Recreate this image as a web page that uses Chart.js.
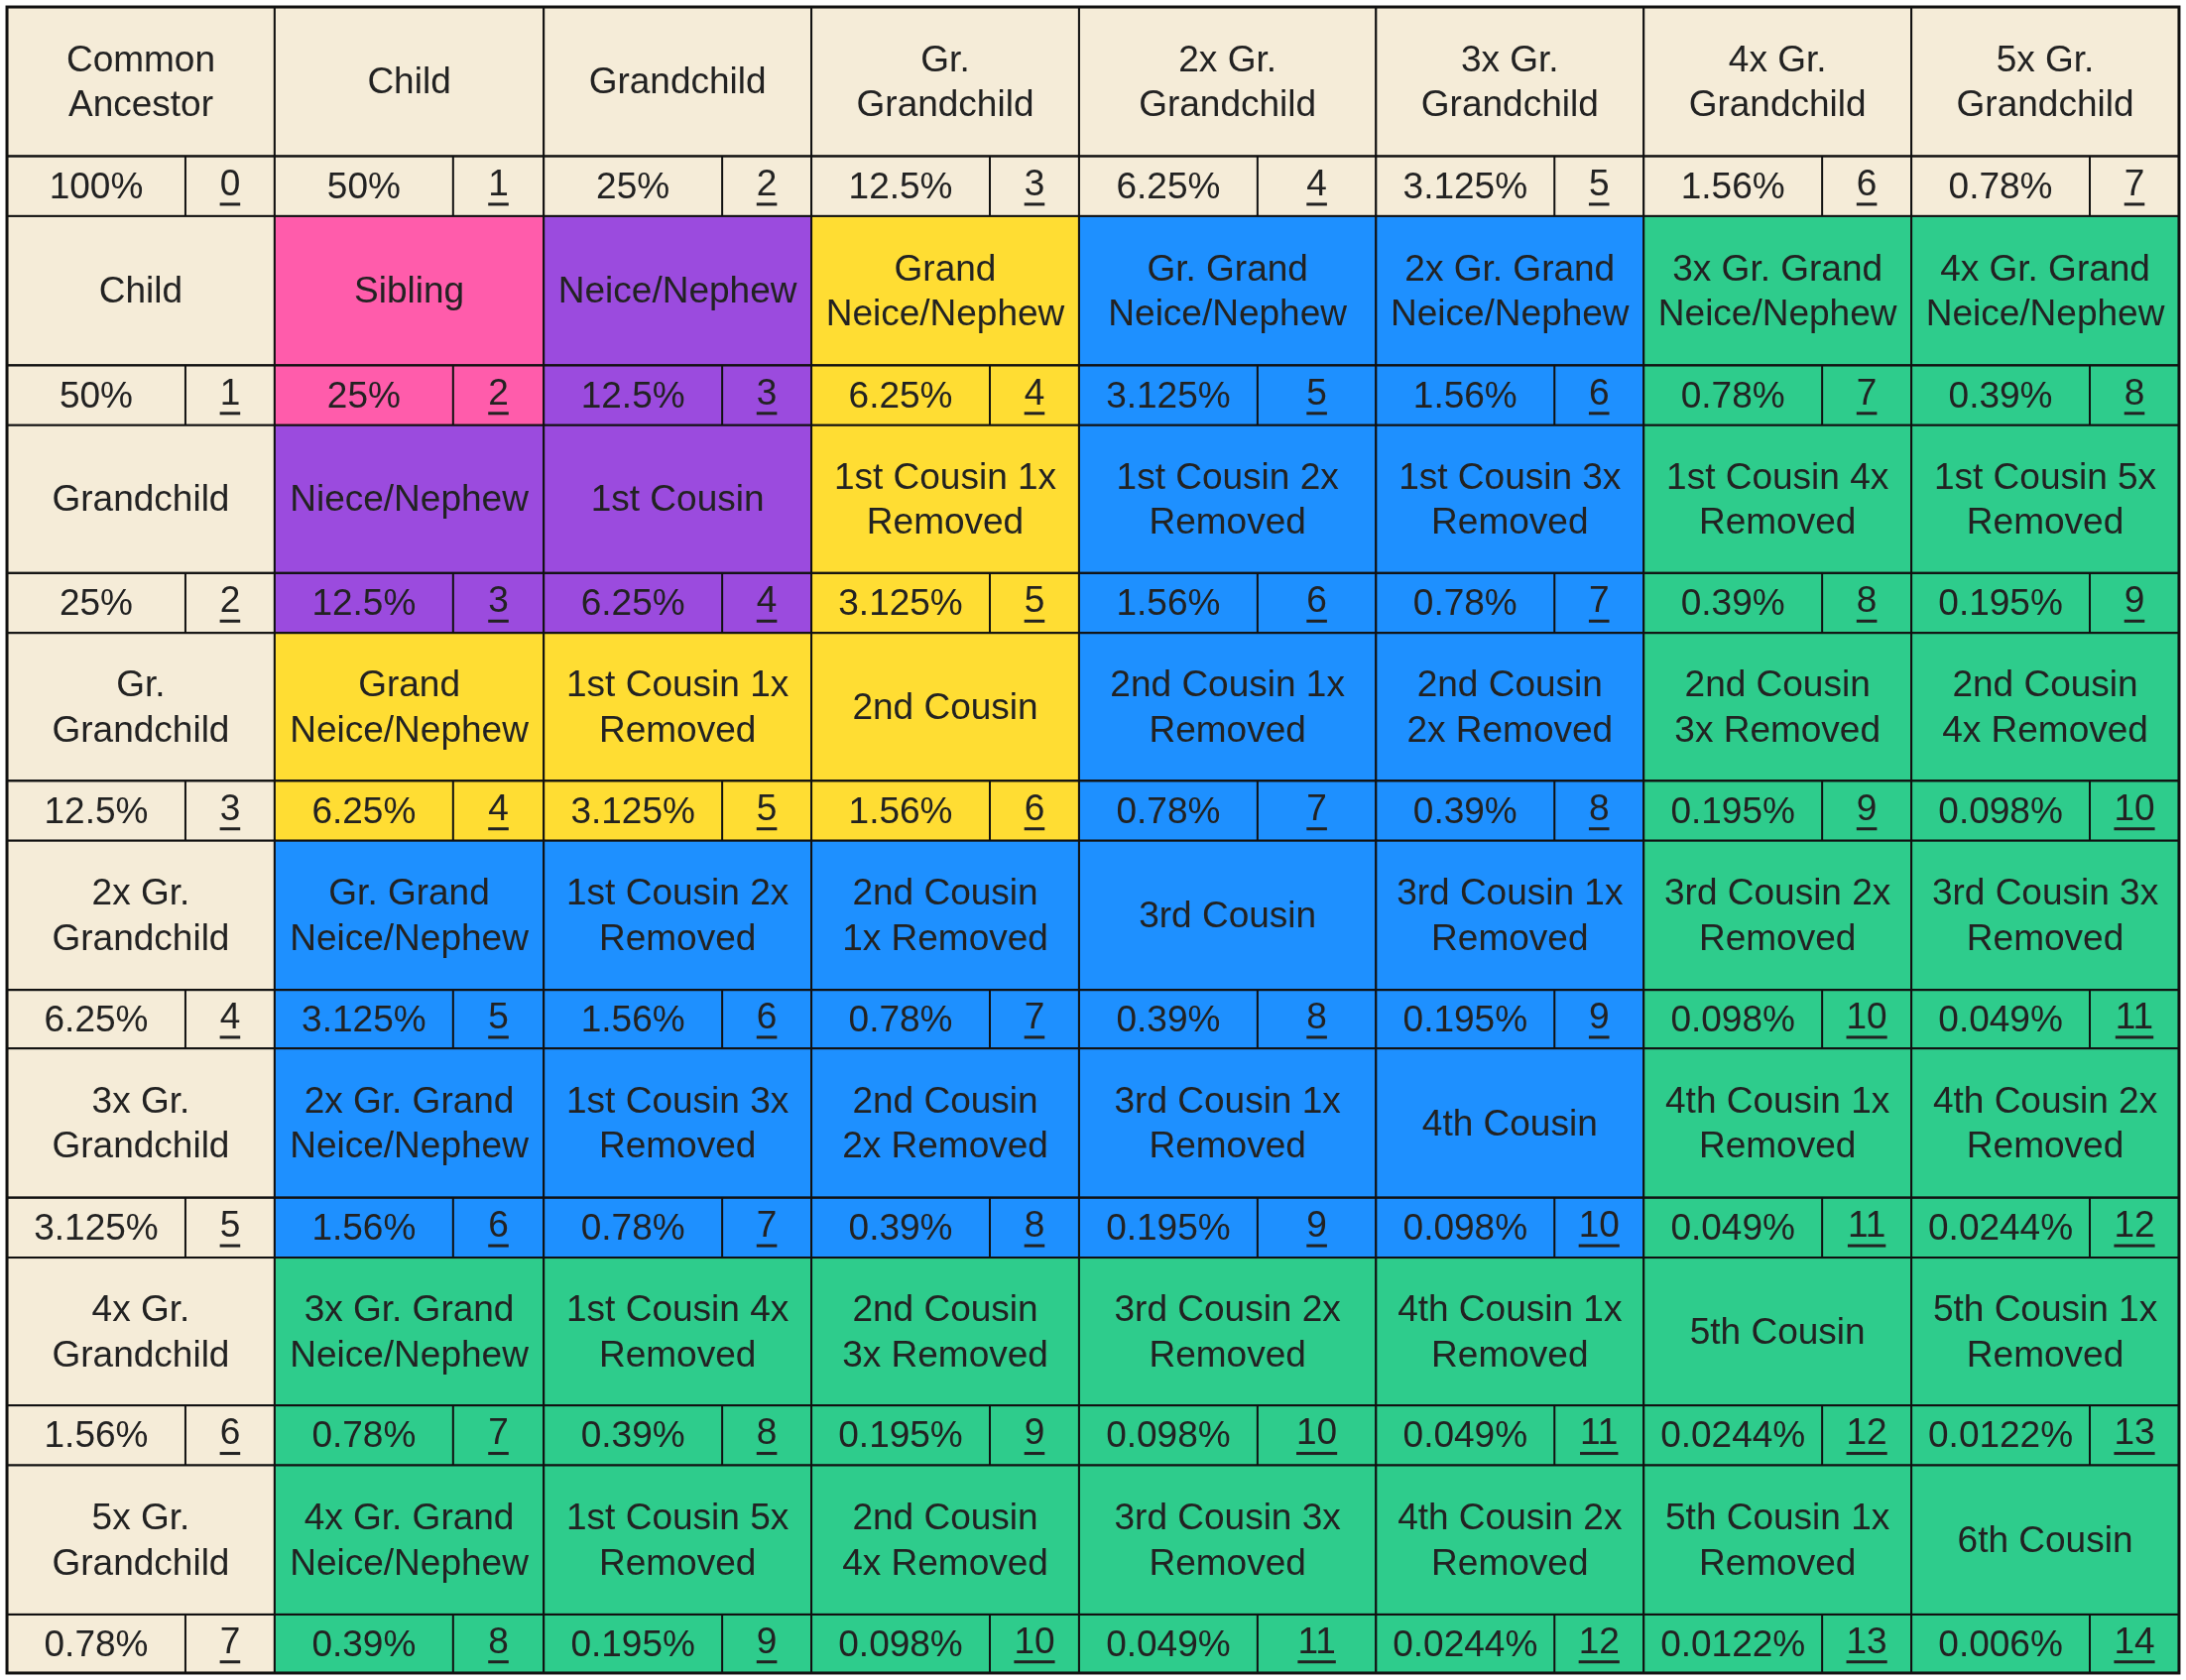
<!DOCTYPE html>
<html>
<head>
<meta charset="utf-8">
<script src="https://cdn.jsdelivr.net/npm/chart.js@4"></script>
<style>
  body { margin: 0; background: #fff; }
  #wrap { width: 2204px; height: 1694px; }
</style>
</head>
<body>
<div id="wrap"><canvas id="grafico"></canvas></div>
<script>
// column headers (also used as row headers)
const geracoes = ['Common\nAncestor', 'Child', 'Grandchild', 'Gr.\nGrandchild', '2x Gr.\nGrandchild',
  '3x Gr.\nGrandchild', '4x Gr.\nGrandchild', '5x Gr.\nGrandchild'];

// percentage shared, indexed by degree of relationship
const percentuais = ['100%', '50%', '25%', '12.5%', '6.25%', '3.125%', '1.56%', '0.78%', '0.39%',
  '0.195%', '0.098%', '0.049%', '0.0244%', '0.0122%', '0.006%'];

// relationship names, rows = generation 1..7, cols = generation 1..7
const parentescos = [
  ['Sibling', 'Neice/Nephew', 'Grand\nNeice/Nephew', 'Gr. Grand\nNeice/Nephew', '2x Gr. Grand\nNeice/Nephew', '3x Gr. Grand\nNeice/Nephew', '4x Gr. Grand\nNeice/Nephew'],
  ['Niece/Nephew', '1st Cousin', '1st Cousin 1x\nRemoved', '1st Cousin 2x\nRemoved', '1st Cousin 3x\nRemoved', '1st Cousin 4x\nRemoved', '1st Cousin 5x\nRemoved'],
  ['Grand\nNeice/Nephew', '1st Cousin 1x\nRemoved', '2nd Cousin', '2nd Cousin 1x\nRemoved', '2nd Cousin\n2x Removed', '2nd Cousin\n3x Removed', '2nd Cousin\n4x Removed'],
  ['Gr. Grand\nNeice/Nephew', '1st Cousin 2x\nRemoved', '2nd Cousin\n1x Removed', '3rd Cousin', '3rd Cousin 1x\nRemoved', '3rd Cousin 2x\nRemoved', '3rd Cousin 3x\nRemoved'],
  ['2x Gr. Grand\nNeice/Nephew', '1st Cousin 3x\nRemoved', '2nd Cousin\n2x Removed', '3rd Cousin 1x\nRemoved', '4th Cousin', '4th Cousin 1x\nRemoved', '4th Cousin 2x\nRemoved'],
  ['3x Gr. Grand\nNeice/Nephew', '1st Cousin 4x\nRemoved', '2nd Cousin\n3x Removed', '3rd Cousin 2x\nRemoved', '4th Cousin 1x\nRemoved', '5th Cousin', '5th Cousin 1x\nRemoved'],
  ['4x Gr. Grand\nNeice/Nephew', '1st Cousin 5x\nRemoved', '2nd Cousin\n4x Removed', '3rd Cousin 3x\nRemoved', '4th Cousin 2x\nRemoved', '5th Cousin 1x\nRemoved', '6th Cousin']
];

// colour tier by the farther generation (index 0 = header)
const coresNivel = ['#F5ECD8', '#FF5CAB', '#9B4BDE', '#FFDD33', '#1E90FF', '#1E90FF', '#2ECC8C', '#2ECC8C'];

// grid lines in table units
const colunas = [5, 197, 390, 582, 774, 987, 1179, 1371, 1563];
const linhas = [5, 112, 155, 262, 305, 411, 454, 560, 603, 710, 752, 859, 902, 1008, 1051, 1158, 1200];
const divisao = 128;

const tabelaPlugin = {
  id: 'tabela',
  afterDraw(chart) {
    const { ctx, scales: { x, y } } = chart;
    const px = v => x.getPixelForValue(v);
    const py = v => y.getPixelForValue(v);
    const fonte = 37;
    ctx.save();
    ctx.font = `${fonte}px "Liberation Sans", Arial, sans-serif`;
    ctx.textAlign = 'center';
    ctx.textBaseline = 'middle';

    const texto = (t, cx, cy) => {
      const partes = t.split('\n');
      partes.forEach((p, k) => {
        ctx.fillText(p, cx, cy + (k - (partes.length - 1) / 2) * fonte * 1.23);
      });
    };
    const sublinhado = (t, cx, cy) => {
      ctx.fillText(t, cx, cy);
      const w = ctx.measureText(t).width;
      ctx.fillRect(cx - w / 2, cy + fonte * 0.48, w, 3);
    };

    for (let i = 0; i < 8; i++) {
      for (let j = 0; j < 8; j++) {
        const x0 = px(colunas[j]), x1 = px(colunas[j + 1]);
        const yl0 = py(linhas[2 * i]), yl1 = py(linhas[2 * i + 1]), yn1 = py(linhas[2 * i + 2]);
        const nivel = (i === 0 || j === 0) ? 0 : Math.max(i, j);
        ctx.fillStyle = coresNivel[nivel];
        ctx.fillRect(x0, yl0, x1 - x0, yn1 - yl0);

        let rotulo;
        if (i === 0) rotulo = geracoes[j];
        else if (j === 0) rotulo = geracoes[i];
        else rotulo = parentescos[i - 1][j - 1];
        ctx.fillStyle = '#222';
        texto(rotulo, (x0 + x1) / 2, (yl0 + yl1) / 2 + 2);

        const grau = i + j;
        const xs = px(colunas[j] + divisao);
        const cyN = (yl1 + yn1) / 2 + 2;
        texto(percentuais[grau], (x0 + xs) / 2, cyN);
        sublinhado(String(grau), (xs + x1) / 2, cyN - 3);

        ctx.strokeStyle = '#111';
        ctx.lineWidth = 2;
        ctx.strokeRect(x0, yl0, x1 - x0, yl1 - yl0);
        ctx.strokeRect(x0, yl1, x1 - x0, yn1 - yl1);
        ctx.beginPath();
        ctx.moveTo(xs, yl1);
        ctx.lineTo(xs, yn1);
        ctx.stroke();
      }
    }
    ctx.lineWidth = 3;
    ctx.strokeRect(px(colunas[0]), py(linhas[0]), px(colunas[8]) - px(colunas[0]), py(linhas[16]) - py(linhas[0]));
    ctx.restore();
  }
};

new Chart(document.getElementById('grafico').getContext('2d'), {
  type: 'scatter',
  data: { datasets: [{ data: [] }] },
  options: {
    responsive: true,
    maintainAspectRatio: false,
    animation: false,
    devicePixelRatio: 1,
    layout: { padding: 0 },
    plugins: { legend: { display: false }, tooltip: { enabled: false } },
    scales: {
      x: { type: 'linear', min: 0, max: 1568, display: false },
      y: { type: 'linear', min: 0, max: 1205, reverse: true, display: false }
    }
  },
  plugins: [tabelaPlugin]
});
</script>
</body>
</html>
